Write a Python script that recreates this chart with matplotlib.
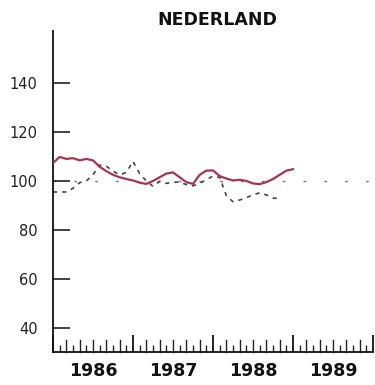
import numpy as np
import matplotlib
matplotlib.use("Agg")
import matplotlib.pyplot as plt

# Monthly series starting January 1986
red_values = [107.3, 109.8, 109.0, 109.3, 108.4, 109.0, 108.4, 105.8, 104.0, 102.5,
              101.5, 100.8, 100.2, 99.3, 98.8, 100.0, 101.5, 103.0, 103.5, 101.5,
              99.5, 98.8, 102.5, 104.2, 104.3, 102.0, 101.0, 100.2, 100.5, 100.0,
              99.0, 98.7, 99.5, 100.8, 102.5, 104.2, 104.8]
gray_values = [95.5, 95.5, 95.5, 97.0, 99.3, 100.0, 102.5, 106.5, 106.0, 104.0,
               102.5, 103.5, 108.0, 103.0, 100.0, 97.8, 99.8, 99.0, 99.5, 99.5,
               98.5, 98.0, 99.0, 100.5, 102.0, 101.5, 94.0, 91.5, 92.2, 93.2,
               94.3, 95.2, 94.3, 93.0, 92.8]
start_year = 1986
reference_level = 100
ytick_values = [40, 60, 80, 100, 120, 140]
year_labels = ["1986", "1987", "1988", "1989"]
title_text = "NEDERLAND"

red_x = start_year + np.arange(len(red_values)) / 12.0
gray_x = start_year + np.arange(len(gray_values)) / 12.0

fig = plt.figure(figsize=(3.75, 3.85), dpi=100)
ax = fig.add_axes([53/375, (385-352)/385, (373-53)/375, (352-31)/385])
ax.set_xlim(1986, 1989.975)
ax.set_ylim(30.2, 161.2)

ax.axhline(reference_level, color="#777777", lw=1.0, dashes=(2, 13), zorder=1)
ax.plot(gray_x, gray_values, color="#444444", lw=1.2, dashes=(2.5, 3), zorder=2)
ax.plot(red_x, red_values, color="#a8344f", lw=1.6, zorder=3)

for s in ["top", "right"]:
    ax.spines[s].set_visible(False)
for s in ["left", "bottom"]:
    ax.spines[s].set_linewidth(1.3)
    ax.spines[s].set_color("#111111")

ax.set_yticks(ytick_values)
ax.set_yticklabels([str(v) for v in ytick_values], fontsize=10.5, color="#222222")
ax.tick_params(axis="y", direction="in", length=12, width=1.2, pad=11, color="#222222")

# x ticks: year boundaries major, months minor; even months drawn slightly taller
years = np.arange(1986, 1991)
ax.set_xticks(years)
ax.set_xticklabels([])
ax.tick_params(axis="x", which="major", direction="in", length=12, width=1.3, color="#111111")
months = [y + m/12 for y in range(1986, 1990) for m in range(1, 12, 2)]
ax.set_xticks(months, minor=True)
ax.tick_params(axis="x", which="minor", direction="in", length=5, width=1.0, color="#222222")
xtr = ax.get_xaxis_transform()
medium_h = 12 / 321
for y in range(1986, 1990):
    for m in range(2, 12, 2):
        ax.plot([y + m/12, y + m/12], [0, medium_h], transform=xtr,
                color="#222222", lw=1.0, clip_on=False, zorder=0)

for i, lab in enumerate(year_labels):
    ax.text(1986.5 + i, -0.03, lab, transform=xtr,
            ha="center", va="top", fontsize=12.5, fontweight="bold", color="#111111")

fig.text(217/375, 1 - 20/385, title_text, ha="center", va="center",
         fontsize=12.5, fontweight="bold", color="#111111")

fig.savefig("out.png", dpi=100, facecolor="white")
